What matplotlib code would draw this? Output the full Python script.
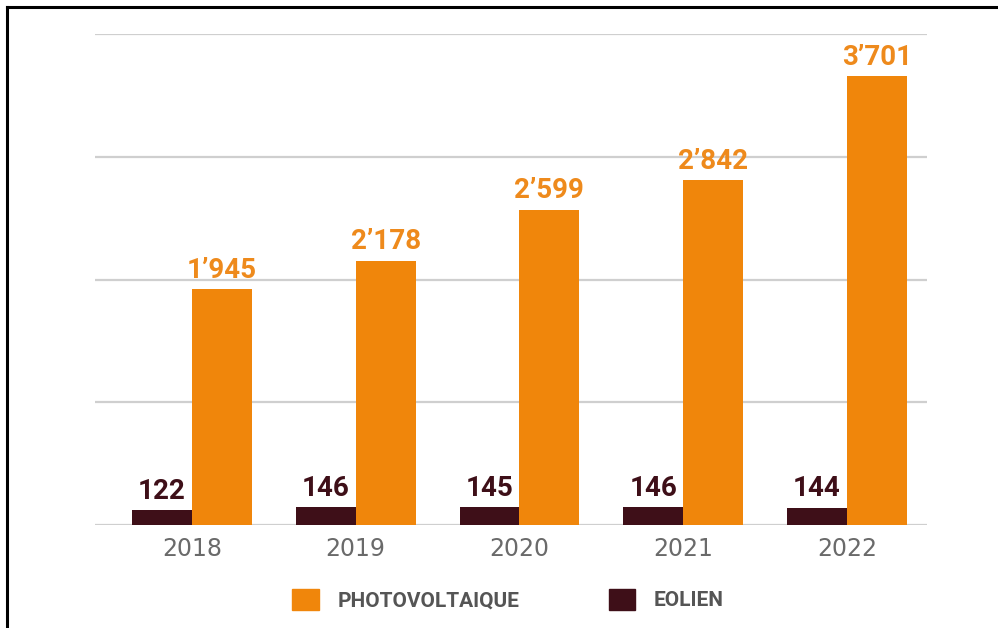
import matplotlib.pyplot as plt
import matplotlib.patches as mpatches
from matplotlib.lines import Line2D
import numpy as np

years = ['2018', '2019', '2020', '2021', '2022']
eolien = [122, 146, 145, 146, 144]
photovoltaique = [1945, 2178, 2599, 2842, 3701]

ORANGE = '#F0860B'
MAROON = '#3E0F18'


def fmt(v):
    return f"{v:,}".replace(',', '\u2019')


fig = plt.figure(figsize=(9.98, 6.28), dpi=100)
ax = fig.add_axes([95 / 998, 103 / 628, 832 / 998, 491 / 628])

x = np.arange(len(years))
w = 0.366
ax.bar(x - w / 2, eolien, w, color=MAROON, zorder=3)
ax.bar(x + w / 2, photovoltaique, w, color=ORANGE, zorder=3)

for xi, v in zip(x, eolien):
    ax.text(xi - w / 2, v + 45, fmt(v), ha='center', va='bottom',
            fontsize=20, fontweight='bold', family='Roboto', color=MAROON)
for xi, v in zip(x, photovoltaique):
    ax.text(xi + w / 2, v + 45, fmt(v), ha='center', va='bottom',
            fontsize=20, fontweight='bold', family='Roboto', color='#EE8A1C')

ax.set_xlim(-0.592, 4.489)
ax.set_ylim(0, 4050)
ax.set_yticks(np.linspace(0, 4050, 5))
ax.set_yticklabels([])
ax.grid(axis='y', color='#cfcfcf', linewidth=1.6, zorder=0)
ax.tick_params(axis='y', length=0)
ax.set_xticks(x)
ax.set_xticklabels(years, fontsize=17, color='#6a6a6a')
ax.tick_params(axis='x', length=0, pad=9)
for s in ax.spines.values():
    s.set_visible(False)

handles = [mpatches.Patch(color=ORANGE, label='PHOTOVOLTAIQUE'),
           mpatches.Patch(color=MAROON, label='EOLIEN')]
fig.legend(handles=handles, loc='center', bbox_to_anchor=(0.509, 0.045), ncol=2,
           frameon=False, prop={'family': 'Roboto', 'weight': 'bold', 'size': 15},
           labelcolor='#555555', handlelength=1.25, handleheight=1.15,
           handletextpad=0.9, columnspacing=4.3)

# frame lines (left and top) like the source scan
fig.add_artist(Line2D([6.5 / 998, 6.5 / 998], [0, 1 - 7 / 628], color='black', lw=2.2,
                      transform=fig.transFigure))
fig.add_artist(Line2D([6.5 / 998, 1], [1 - 7 / 628, 1 - 7 / 628], color='black', lw=2.2,
                      transform=fig.transFigure))

fig.savefig('out.png', dpi=100)
